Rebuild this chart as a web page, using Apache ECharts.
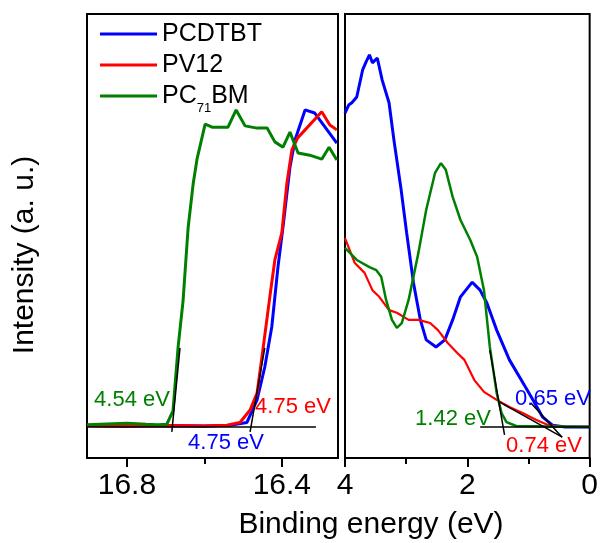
<!DOCTYPE html>
<html><head><meta charset="utf-8">
<script src="https://cdn.jsdelivr.net/npm/echarts@6/dist/echarts.min.js"></script>
<style>html,body{margin:0;padding:0;background:#fff}#c{width:601px;height:543px}</style>
</head><body><div id="c"></div>
<script>
// ---- axis ticks ----
const leftTicks = [16.8, 16.4];
const leftMinorTicks = [16.6];
const rightTicks = [4, 2, 0];
const rightMinorTicks = [3, 1];
const seriesNames = ['PCDTBT', 'PV12', 'PC71BM'];

// ---- left panel (secondary electron cutoff) ----
const leftE_PCDTBT = [16.903, 16.80, 16.70, 16.60, 16.534, 16.490, 16.464, 16.444, 16.426, 16.410, 16.397, 16.379, 16.366, 16.340, 16.315, 16.258];
const leftI_PCDTBT = [7.3, 7.2, 7.3, 7.2, 7.4, 8.0, 13.1, 20.5, 29.5, 43.0, 52.0, 65.5, 71.6, 78.4, 77.7, 70.9];
const leftE_PV12 = [16.903, 16.80, 16.70, 16.60, 16.542, 16.508, 16.482, 16.464, 16.449, 16.431, 16.418, 16.400, 16.387, 16.374, 16.359, 16.297, 16.276, 16.258];
const leftI_PV12 = [7.3, 7.2, 7.3, 7.2, 7.4, 8.0, 10.8, 14.6, 24.3, 36.3, 44.6, 50.7, 61.9, 69.4, 72.1, 78.0, 75.0, 73.9];
const leftE_PCBM = [16.903, 16.80, 16.75, 16.72, 16.697, 16.681, 16.668, 16.655, 16.642, 16.629, 16.619, 16.598, 16.580, 16.539, 16.518, 16.495, 16.464, 16.438, 16.418, 16.397, 16.379, 16.358, 16.328, 16.297, 16.278, 16.258];
const leftI_PCBM = [7.5, 7.8, 7.6, 7.5, 7.6, 10.6, 24.8, 35.4, 51.8, 61.7, 67.3, 75.2, 74.5, 74.5, 78.4, 74.8, 74.3, 74.3, 71.2, 70.0, 73.4, 68.7, 68.2, 67.3, 70.0, 67.1];
// tangent / baseline lines (left)
const leftBaseE = [16.903, 16.312], leftBaseI = [7.0, 7.0];
const leftFitPCBM_E = [16.684, 16.663], leftFitPCBM_I = [5.9, 24.8];
const leftFitPoly_E = [16.482, 16.444], leftFitPoly_I = [5.9, 24.8];

// ---- right panel (valence band region) ----
const rightE_PCDTBT = [4.0, 3.94, 3.888, 3.808, 3.712, 3.65, 3.6, 3.552, 3.472, 3.392, 3.28, 3.2, 3.088, 2.992, 2.88, 2.768, 2.672, 2.512, 2.368, 2.24, 2.112, 1.92, 1.792, 1.68, 1.52, 1.312, 1.12, 0.928, 0.768, 0.608, 0.4, 0.0];
const rightI_PCDTBT = [77.7, 79.5, 80.0, 81.3, 87.4, 89.4, 90.8, 89.0, 90.1, 85.1, 80.0, 71.6, 61.0, 50.7, 39.4, 31.1, 26.6, 25.0, 26.6, 31.1, 36.3, 39.6, 37.8, 34.9, 28.8, 22.1, 17.6, 13.1, 9.2, 7.4, 7.0, 7.0];
const rightE_PV12 = [4.0, 3.84, 3.68, 3.552, 3.44, 3.28, 3.152, 2.96, 2.8, 2.608, 2.48, 2.32, 2.16, 2.048, 1.888, 1.728, 1.52, 1.312, 1.088, 0.88, 0.672, 0.448, 0.0];
const rightI_PV12 = [49.5, 43.9, 41.7, 37.8, 36.3, 33.3, 32.7, 31.1, 31.1, 30.4, 28.8, 25.9, 23.6, 22.1, 17.6, 14.9, 13.1, 11.5, 10.1, 8.6, 7.4, 7.0, 7.0];
const rightE_PCBM = [4.0, 3.808, 3.6, 3.488, 3.408, 3.328, 3.232, 3.152, 3.072, 2.96, 2.8, 2.672, 2.528, 2.432, 2.352, 2.24, 2.112, 1.952, 1.84, 1.728, 1.632, 1.6, 1.52, 1.44, 1.36, 1.2, 0.0];
const rightI_PCBM = [47.3, 44.6, 43.0, 42.3, 40.8, 35.6, 31.1, 29.3, 30.4, 35.6, 46.2, 55.9, 64.2, 66.4, 64.9, 58.8, 53.6, 49.1, 45.3, 37.8, 25.0, 22.1, 14.6, 10.1, 8.1, 7.2, 7.0];
// tangent / baseline lines (right)
const rightBaseE = [1.79, 0.0], rightBaseI = [7.0, 7.0];
const rightFitPCBM_E = [1.632, 1.392], rightFitPCBM_I = [24.3, 5.2];
const rightFitPCDTBT_E = [0.96, 0.45], rightFitPCDTBT_I = [12.4, 4.7];
const rightFitPV12_E = [1.472, 0.448], rightFitPV12_I = [12.6, 4.7];

const FONT = "'Liberation Sans', Arial, sans-serif";
const BLUE = '#0000ff', RED = '#ff0000', GREEN = '#008000';
const pts = (xs, ys) => xs.map((x, i) => [x, ys[i]]);

function curve(name, gi, xs, ys, color, w) {
  return { name, type: 'line', xAxisIndex: gi, yAxisIndex: gi, data: pts(xs, ys),
    symbol: 'none', color, lineStyle: { width: w, color }, z: 2, animation: false };
}
function fit(gi, xs, ys) {
  return { name: 'fit', type: 'line', xAxisIndex: gi, yAxisIndex: gi, data: pts(xs, ys),
    symbol: 'none', color: '#000', lineStyle: { width: 1.5, color: '#000' }, z: 5, animation: false };
}
function mainAxis(gi, min, max, ticks) {
  return { type: 'value', gridIndex: gi, min, max, inverse: true,
    axisLine: { show: true, onZero: false, lineStyle: { color: '#000', width: 2 } },
    axisTick: { show: true, inside: false, length: 9, lineStyle: { color: '#000', width: 2 }, customValues: ticks },
    axisLabel: { show: true, customValues: ticks, fontSize: 30, color: '#000', fontFamily: FONT, margin: 13,
      formatter: v => (gi === 0 ? Number(v).toFixed(1) : String(Math.round(v))) },
    splitLine: { show: false } };
}
function minorAxis(gi, min, max, ticks) {
  return { type: 'value', gridIndex: gi, min, max, inverse: true, position: 'bottom',
    axisLine: { show: false, onZero: false },
    axisTick: { show: true, inside: false, length: 6, lineStyle: { color: '#000', width: 2 }, customValues: ticks },
    axisLabel: { show: false }, splitLine: { show: false } };
}
function annot(text, x, y, color) {
  return { type: 'text', x, y, z: 100,
    style: { text, fill: color, fontSize: 22, fontFamily: FONT, align: 'center', verticalAlign: 'middle',
      textAlign: 'center', textVerticalAlign: 'middle' } };
}

const chart = echarts.init(document.getElementById('c'), null, { renderer: 'canvas' });
chart.setOption({
  animation: false,
  backgroundColor: '#fff',
  textStyle: { fontFamily: FONT },
  grid: [
    { left: 87, top: 14, width: 251, height: 444, show: true, borderColor: '#000', borderWidth: 2, backgroundColor: 'transparent' },
    { left: 345, top: 14, width: 250, height: 444, show: true, borderColor: '#000', borderWidth: 2, backgroundColor: 'transparent' }
  ],
  xAxis: [
    mainAxis(0, 16.255, 16.903, leftTicks),
    mainAxis(1, 0, 4, rightTicks),
    minorAxis(0, 16.255, 16.903, leftMinorTicks),
    minorAxis(1, 0, 4, rightMinorTicks)
  ],
  yAxis: [
    { type: 'value', gridIndex: 0, min: 0, max: 100, show: false },
    { type: 'value', gridIndex: 1, min: 0, max: 100, show: false }
  ],
  legend: {
    data: seriesNames, orient: 'vertical', left: 95, top: 10.5, itemWidth: 57, itemHeight: 3, icon: 'rect',
    itemGap: -6, selectedMode: false,
    formatter: n => n === 'PC71BM' ? '{m|PC}{s|71}{m|BM}' : '{m|' + n + '}',
    textStyle: { fontSize: 25, color: '#000', fontFamily: FONT,
      rich: { m: { fontSize: 25, lineHeight: 25, padding: [6, 0, 6, 0], color: '#000', fontFamily: FONT },
              s: { fontSize: 13, lineHeight: 13, padding: [24, 0, 0, 0], color: '#000', fontFamily: FONT } } }
  },
  graphic: [
    { type: 'text', x: 25, y: 255, rotation: Math.PI / 2, z: 100,
      style: { text: 'Intensity (a. u.)', fill: '#000', fontSize: 30, fontFamily: FONT, align: 'center', verticalAlign: 'middle', textAlign: 'center', textVerticalAlign: 'middle' } },
    { type: 'text', x: 371, y: 525, z: 100,
      style: { text: 'Binding energy (eV)', fill: '#000', fontSize: 30, fontFamily: FONT, align: 'center', verticalAlign: 'middle', textAlign: 'center', textVerticalAlign: 'middle' } },
    annot('4.54 eV', 132, 400, GREEN),
    annot('4.75 eV', 293, 407, RED),
    annot('4.75 eV', 226, 443, BLUE),
    annot('1.42 eV', 453, 419, GREEN),
    annot('0.65 eV', 553, 399, BLUE),
    annot('0.74 eV', 544, 446, RED)
  ],
  series: [
    curve('PCDTBT', 0, leftE_PCDTBT, leftI_PCDTBT, BLUE, 3),
    curve('PV12', 0, leftE_PV12, leftI_PV12, RED, 3),
    curve('PC71BM', 0, leftE_PCBM, leftI_PCBM, GREEN, 3),
    fit(0, leftBaseE, leftBaseI),
    fit(0, leftFitPCBM_E, leftFitPCBM_I),
    fit(0, leftFitPoly_E, leftFitPoly_I),
    curve('PCDTBT', 1, rightE_PCDTBT, rightI_PCDTBT, BLUE, 3),
    curve('PV12', 1, rightE_PV12, rightI_PV12, RED, 2.2),
    curve('PC71BM', 1, rightE_PCBM, rightI_PCBM, GREEN, 2.5),
    fit(1, rightBaseE, rightBaseI),
    fit(1, rightFitPCBM_E, rightFitPCBM_I),
    fit(1, rightFitPCDTBT_E, rightFitPCDTBT_I),
    fit(1, rightFitPV12_E, rightFitPV12_I)
  ]
});
</script></body></html>
